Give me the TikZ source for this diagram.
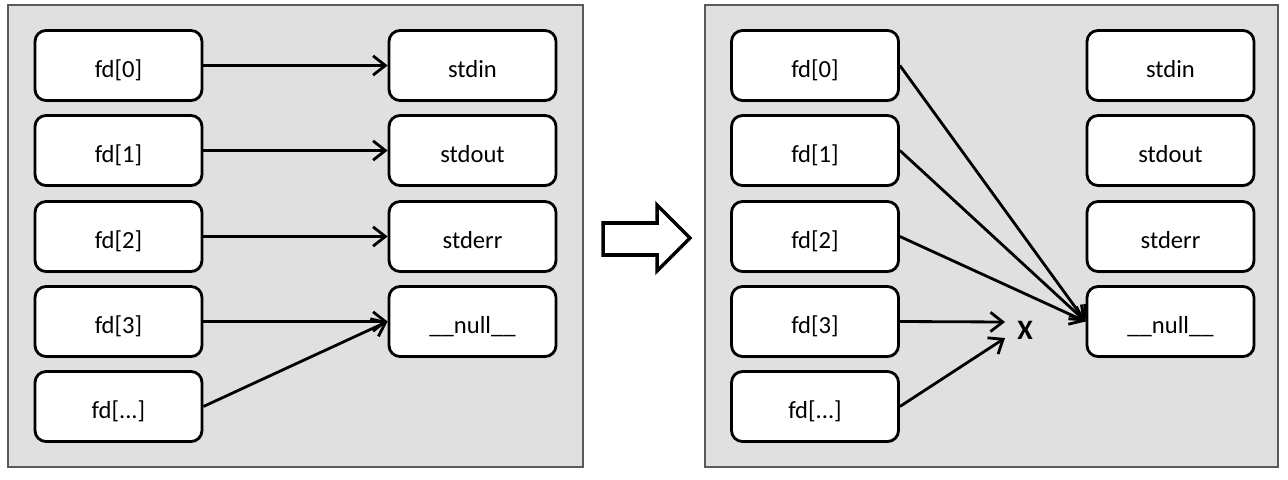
\documentclass[tikz,border=0pt]{standalone}
\usepackage{fontspec}
\setmainfont{Carlito}
\usetikzlibrary{arrows.meta,positioning,shadows}
\definecolor{panelgray}{RGB}{224,224,224}
\definecolor{edgegray}{RGB}{90,90,90}
\begin{document}
\begin{tikzpicture}[x=0.02cm,y=-0.02cm, >={Straight Barb[length=7pt,width=11pt,line width=1.6pt]}, line width=1.6pt,
fd node/.style={rectangle,rounded corners=0.22cm,draw,fill=white,line width=1.6pt,minimum width=3.34cm,minimum height=1.4cm,text height=14pt,text depth=0pt,font=\fontsize{14}{16}\selectfont,drop shadow={shadow xshift=0.6pt,shadow yshift=-1pt,opacity=0.25}},
panel/.style={draw=edgegray,fill=panelgray,line width=0.8pt}]
\useasboundingbox (0,0) rectangle (1288,480);
\draw[panel] (8,5) rectangle (583,467);
\draw[panel] (705,5) rectangle (1278,467);
% left panel
\begin{scope}
\node[fd node] (a0) at (118.5,65.5) {fd[0]};
\node[fd node] (a1) at (118.5,150.5) {fd[1]};
\node[fd node] (a2) at (118.5,236.5) {fd[2]};
\node[fd node] (a3) at (118.5,321.5) {fd[3]};
\node[fd node] (a4) at (118.5,406.5) {fd[...]};
\node[fd node] (s0) at (472.5,65.5) {stdin};
\node[fd node] (s1) at (472.5,150.5) {stdout};
\node[fd node] (s2) at (472.5,236.5) {stderr};
\node[fd node] (s3) at (472.5,321.5) {\_\_null\_\_};
\end{scope}
\draw[->] (a0) -- (s0);
\draw[->] (a1) -- (s1);
\draw[->] (a2) -- (s2);
\draw[->] (a3) -- (s3);
\draw[->] (a4.east) -- (s3.west);
% block arrow
\draw[line width=2pt,fill=white,line join=miter,drop shadow={shadow xshift=0.6pt,shadow yshift=-1pt,opacity=0.25}] (603,223) -- (657,223) -- (657,205) -- (690,238) -- (657,271) -- (657,255) -- (603,255) -- cycle;
% right panel
\begin{scope}
\node[fd node] (b0) at (815,65.5) {fd[0]};
\node[fd node] (b1) at (815,150.5) {fd[1]};
\node[fd node] (b2) at (815,236.5) {fd[2]};
\node[fd node] (b3) at (815,321.5) {fd[3]};
\node[fd node] (b4) at (815,406.5) {fd[...]};
\node[fd node] (t0) at (1170.5,65.5) {stdin};
\node[fd node] (t1) at (1170.5,150.5) {stdout};
\node[fd node] (t2) at (1170.5,236.5) {stderr};
\node[fd node] (t3) at (1170.5,321.5) {\_\_null\_\_};
\node[font=\fontsize{16}{18}\selectfont\bfseries] (x) at (1025,330) {X};
\end{scope}
\draw[->] (b0.east) -- (t3.west);
\draw[->] (b1.east) -- (t3.west);
\draw[->] (b2.east) -- (t3.west);
\coordinate (x1) at (1005,322);
\coordinate (x2) at (1005,338);
\draw[->] (b3.east) -- (x1);
\draw[->] (b4.east) -- (x2);
\end{tikzpicture}
\end{document}
